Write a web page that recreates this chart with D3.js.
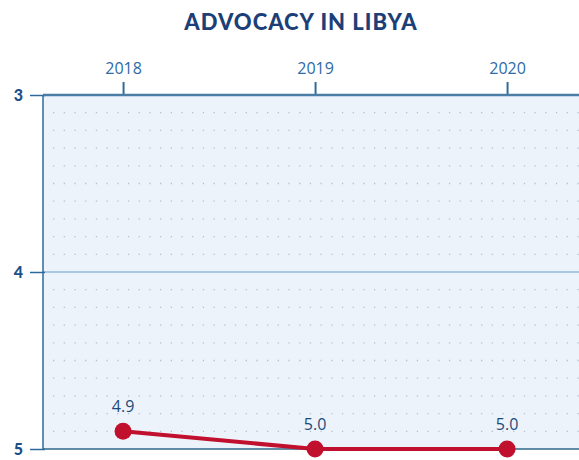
<!DOCTYPE html>
<html>
<head>
<meta charset="utf-8">
<script src="https://cdn.jsdelivr.net/npm/d3@7"></script>
<style>
  body { margin: 0; background: #fff; }
  svg { display: block; }
</style>
</head>
<body>
<div id="chart"></div>
<script>
// data
var years = [2018, 2019, 2020];
var scores = [4.9, 5.0, 5.0];
var yTicks = [3, 4, 5];

var w = 579, h = 460;
var margin = { top: 95, right: 0, bottom: 11, left: 43 };
var width = w - margin.left - margin.right;
var height = h - margin.top - margin.bottom;

var svg = d3.select("#chart")
  .append("svg")
  .attr("width", w)
  .attr("height", h);

// title
svg.append("text")
  .attr("x", 301)
  .attr("y", 30)
  .attr("text-anchor", "middle")
  .style("font-family", "Lato, 'Open Sans', sans-serif")
  .style("font-weight", "900")
  .style("font-size", "22px")
  .style("letter-spacing", "1px")
  .style("fill", "#1d3f78")
  .text("ADVOCACY IN LIBYA");

var g = svg.append("g")
  .attr("transform", "translate(" + margin.left + "," + margin.top + ")");

// scales
var x = d3.scaleLinear()
  .domain([2017.583, 2020.7])
  .range([0, 192 * 3.117]);

var y = d3.scaleLinear()
  .domain([3, 5])
  .range([0, height]);

// plot background
g.append("rect")
  .attr("x", 0)
  .attr("y", 0)
  .attr("width", width)
  .attr("height", height)
  .style("fill", "#edf3fb");

// dotted minor grid every 0.1
var minor = d3.range(3.1, 5.0, 0.1).filter(function (v) { return Math.abs(v - 4) > 0.01; });
g.append("g")
  .selectAll("line")
  .data(minor)
  .enter()
  .append("line")
  .attr("x1", 10)
  .attr("x2", width)
  .attr("y1", function (d) { return y(d); })
  .attr("y2", function (d) { return y(d); })
  .style("stroke", "#b3c2d3")
  .style("stroke-width", 1.3)
  .style("stroke-dasharray", "1.3,9.4");

// major gridline at 4
g.append("line")
  .attr("x1", 0)
  .attr("x2", width)
  .attr("y1", y(4))
  .attr("y2", y(4))
  .style("stroke", "#a9c8e2")
  .style("stroke-width", 2);

// axes
var axisColor = "#2f6a9a";
var yAxis = g.append("g")
  .call(d3.axisLeft(y).tickValues(yTicks).tickSize(13).tickFormat(d3.format("d")));
yAxis.select(".domain").remove();
yAxis.selectAll(".tick line").attr("x2", -13).attr("x1", 2).style("stroke", axisColor).style("stroke-width", 1.5);
yAxis.selectAll(".tick text")
  .attr("x", -20)
  .attr("dy", "0.36em")
  .style("font-family", "Lato, 'Open Sans', sans-serif")
  .style("font-weight", "900")
  .style("font-size", "16px")
  .style("fill", "#1d4f86");

var xAxis = g.append("g")
  .call(d3.axisTop(x).tickValues(years).tickSize(13).tickFormat(d3.format("d")));
xAxis.select(".domain").remove();
xAxis.selectAll(".tick line").style("stroke", axisColor).style("stroke-width", 2);
xAxis.selectAll(".tick text")
  .attr("y", -21)
  .style("font-family", "'Open Sans', sans-serif")
  .style("font-size", "16px")
  .style("fill", "#2d6aa6");

// frame lines
g.append("line")
  .attr("x1", 0).attr("x2", width)
  .attr("y1", 0).attr("y2", 0)
  .style("stroke", "#4a7ea6").style("stroke-width", 2.5);
g.append("line")
  .attr("x1", 0).attr("x2", 0)
  .attr("y1", 0).attr("y2", height)
  .style("stroke", axisColor).style("stroke-width", 1.5);
g.append("line")
  .attr("x1", 0).attr("x2", width)
  .attr("y1", height).attr("y2", height)
  .style("stroke", "#2e6a8a").style("stroke-width", 1.5);

// series
var pts = years.map(function (yr, i) { return { year: yr, v: scores[i] }; });
var line = d3.line()
  .x(function (d) { return x(d.year); })
  .y(function (d) { return y(d.v); });

g.append("path")
  .datum(pts)
  .attr("d", line)
  .style("fill", "none")
  .style("stroke", "#c0102e")
  .style("stroke-width", 4);

g.append("g")
  .selectAll("circle")
  .data(pts)
  .enter()
  .append("circle")
  .attr("cx", function (d) { return x(d.year); })
  .attr("cy", function (d) { return y(d.v); })
  .attr("r", 8.5)
  .style("fill", "#c0102e");

g.append("g")
  .selectAll("text")
  .data(pts)
  .enter()
  .append("text")
  .attr("x", function (d) { return x(d.year); })
  .attr("y", function (d) { return y(d.v) - 19; })
  .attr("text-anchor", "middle")
  .style("font-family", "'Open Sans', sans-serif")
  .style("font-size", "16px")
  .style("fill", "#1d4a7a")
  .text(function (d) { return d.v.toFixed(1); });
</script>
</body>
</html>
